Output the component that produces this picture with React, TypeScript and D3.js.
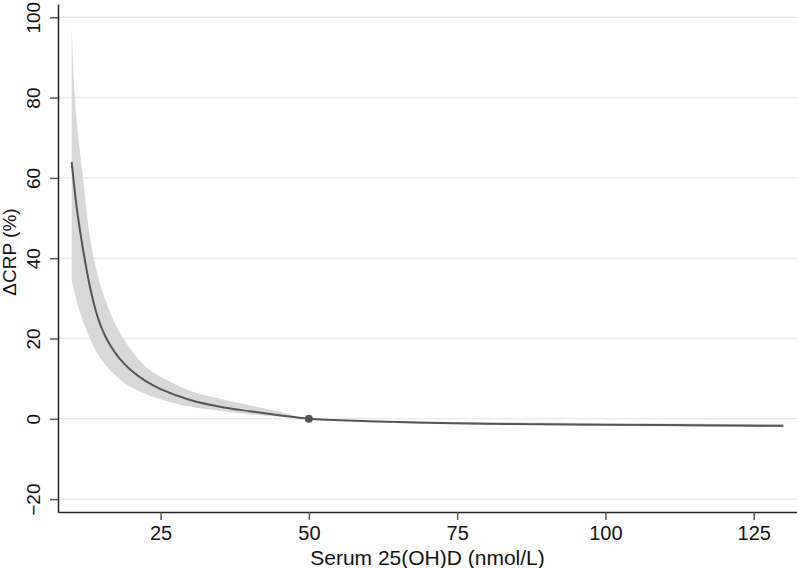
import { useEffect, useRef } from 'react'
import * as d3 from 'd3'

// serum 25(OH)D (nmol/L)
const dose = [10, 10.5, 11, 12, 13, 14, 15, 16.5, 18, 20, 22.5, 25, 30, 35, 40, 45, 50, 60, 75, 90, 100, 115, 130]
// estimated change in CRP (%)
const estimate = [64, 57, 51, 41.5, 33.5, 27.3, 22.8, 18.3, 15.2, 12.1, 9.4, 7.4, 4.7, 3.0, 1.9, 0.9, 0, -0.6, -1.1, -1.35, -1.45, -1.6, -1.75]
const upper = [98, 81, 72, 59, 46, 38, 32.5, 26.5, 21.8, 17.2, 13, 10.5, 7, 5, 3.4, 1.8, 0, -0.4, -0.8, -1.0, -1.1, -1.25, -1.4]
const lower = [34.5, 31.5, 28.5, 24, 20.3, 17.2, 14.8, 12.1, 10, 7.9, 6.2, 4.9, 3.0, 2.0, 1.1, 0.5, 0, -0.8, -1.4, -1.65, -1.8, -1.95, -2.1]

const xTicks = [25, 50, 75, 100, 125]
const yTicks = [-20, 0, 20, 40, 60, 80, 100]
const refPoint = [50, 0]

export default function App() {
  const svgRef = useRef<SVGSVGElement>(null)

  useEffect(() => {
    if (!svgRef.current) return
    const width = 797
    const height = 568
    const font = '"Liberation Sans", Arial, Helvetica, sans-serif'

    const svg = d3.select(svgRef.current)
    svg.selectAll('*').remove()
    svg.attr('width', width).attr('height', height)

    const x = d3.scaleLinear().domain([7.7, 132.3]).range([58, 797])
    const y = d3.scaleLinear().domain([-23.2, 103.3]).range([512, 4])

    // grid
    svg.append('g')
      .selectAll('line')
      .data(yTicks)
      .enter()
      .append('line')
      .attr('x1', 58)
      .attr('x2', width)
      .attr('y1', d => y(d))
      .attr('y2', d => y(d))
      .attr('stroke', '#ebebeb')
      .attr('stroke-width', 1.5)

    const rows = dose.map((d, i) => ({ x: d, est: estimate[i], lo: lower[i], hi: upper[i] }))

    // confidence band
    const area = d3.area<any>()
      .x(d => x(d.x))
      .y0(d => y(d.lo))
      .y1(d => y(d.hi))
      .curve(d3.curveCatmullRom.alpha(0.5))
    svg.append('path').datum(rows).attr('d', area).attr('fill', '#d8d8d8')

    // estimate
    const line = d3.line<any>()
      .x(d => x(d.x))
      .y(d => y(d.est))
      .curve(d3.curveCatmullRom.alpha(0.5))
    svg.append('path')
      .datum(rows)
      .attr('d', line)
      .attr('fill', 'none')
      .attr('stroke', '#555')
      .attr('stroke-width', 2)

    svg.append('circle')
      .attr('cx', x(refPoint[0]))
      .attr('cy', y(refPoint[1]))
      .attr('r', 4)
      .attr('fill', '#555')

    // axes
    const xAxis = svg.append('g').attr('transform', 'translate(0,512)')
    xAxis.call(d3.axisBottom(x).tickValues(xTicks).tickSize(8).tickSizeOuter(0))
    xAxis.select('.domain').attr('stroke', '#222').attr('stroke-width', 1.5)
    xAxis.selectAll('.tick line').attr('stroke', '#555').attr('stroke-width', 1.5)
    xAxis.selectAll('.tick text')
      .attr('y', 14)
      .attr('dy', '0.71em')
      .style('font-family', font)
      .style('font-size', '20px')
      .attr('fill', '#111')

    const yAxis = svg.append('g').attr('transform', 'translate(58,0)')
    yAxis.call(d3.axisLeft(y).tickValues(yTicks).tickSize(8).tickSizeOuter(0).tickFormat(d => String(d).replace('-', '\u2212')))
    yAxis.select('.domain').attr('stroke', '#222').attr('stroke-width', 1.5)
    yAxis.selectAll('.tick line').attr('stroke', '#555').attr('stroke-width', 1.5)
    yAxis.selectAll('.tick text')
      .attr('x', null)
      .attr('dy', null)
      .attr('transform', 'translate(-18,0) rotate(-90)')
      .attr('text-anchor', 'middle')
      .style('font-family', font)
      .style('font-size', '19px')
      .attr('fill', '#111')

    // titles
    svg.append('text')
      .attr('x', (58 + width) / 2)
      .attr('y', 565)
      .attr('text-anchor', 'middle')
      .style('font-family', font)
      .style('font-size', '21px')
      .attr('fill', '#111')
      .text('Serum 25(OH)D (nmol/L)')

    svg.append('text')
      .attr('transform', 'translate(16,252) rotate(-90)')
      .attr('text-anchor', 'middle')
      .style('font-family', font)
      .style('font-size', '19px')
      .attr('fill', '#111')
      .text('ΔCRP (%)')
  }, [])

  return <svg ref={svgRef} style={{ position: 'absolute', left: 0, top: 0, background: '#fff' }}></svg>
}
